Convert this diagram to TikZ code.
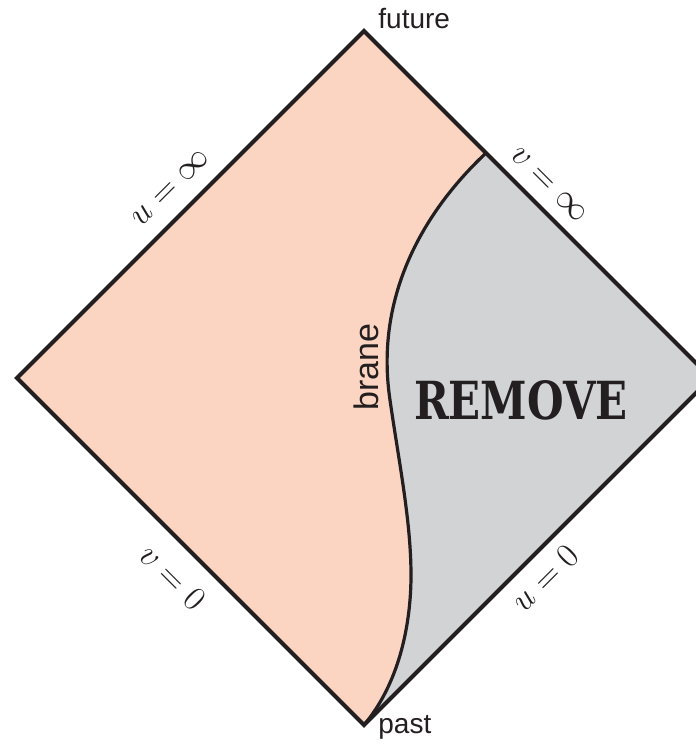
\documentclass[tikz,border=0pt]{standalone}
\usepackage{amsmath,amssymb}
\usepackage{fontspec}
\newfontfamily\labelfont{Liberation Sans}
\newfontfamily\stencilfont{DejaVu Serif}
\usepackage{tikz}
\usetikzlibrary{positioning,calc}
\definecolor{bulkpink}{RGB}{252,212,194}
\definecolor{cutgray}{RGB}{209,211,212}
\definecolor{inkline}{RGB}{35,31,32}

\begin{document}
\begin{tikzpicture}[
  x=0.5pt, y=-0.5pt,
  edge/.style={draw=inkline, line width=2pt, line join=miter},
  branepath/.style={draw=inkline, line width=1.6pt},
  tag/.style={font=\labelfont\fontsize{14}{16}\selectfont, text=inkline, inner sep=0pt},
  bound/.style={font=\fontsize{18}{20}\selectfont, text=inkline, inner sep=0pt},
  stamp/.style={font=\stencilfont\bfseries\fontsize{21}{24}\selectfont, text=inkline, yscale=1.25, inner sep=0pt}
]
\useasboundingbox (0,0) rectangle (696,750);
\clip (0,0) rectangle (696,750);

% Corners of the diagram
\coordinate (top) at (364,31);
\coordinate (left) at (17,378);
\coordinate (right) at (711,378);
\coordinate (bottom) at (364,725);
\coordinate (bstart) at (486,153);

% Regions
\fill[bulkpink] (left) -- (top) -- (bstart)
  .. controls (420,215) and (375,300) .. (390,400)
  .. controls (400,470) and (415,540) .. (410,600)
  .. controls (405,660) and (385,700) .. (bottom) -- cycle;
\fill[cutgray] (bstart) -- (right) -- (bottom)
  .. controls (385,700) and (405,660) .. (410,600)
  .. controls (415,540) and (400,470) .. (390,400)
  .. controls (375,300) and (420,215) .. (bstart) -- cycle;

% Brane
\draw[branepath] (bstart)
  .. controls (420,215) and (375,300) .. (390,400)
  .. controls (400,470) and (415,540) .. (410,600)
  .. controls (405,660) and (385,700) .. (bottom);

% Boundary
\draw[edge] (left) -- (top) -- (right) -- (bottom) -- cycle;

% Labels
\node[tag, anchor=base west] (future) at (378,28) {future};
\node[tag, anchor=base west] (past) at (378,733) {past};
\node[tag, font=\labelfont\fontsize{17}{20}\selectfont, rotate=90] (brane) at (366,367) {brane};
\node[stamp] (remove) at (521,400) {REMOVE};

\node[bound, rotate=45] (uinf) at (171,188) {$u=\infty$};
\node[bound, rotate=-45] (vinf) at (549,185) {$v=\infty$};
\node[bound, rotate=-45] (vzero) at (173,577) {$v=0$};
\node[bound, rotate=45] (uzero) at (545,578) {$u=0$};
\end{tikzpicture}
\end{document}
